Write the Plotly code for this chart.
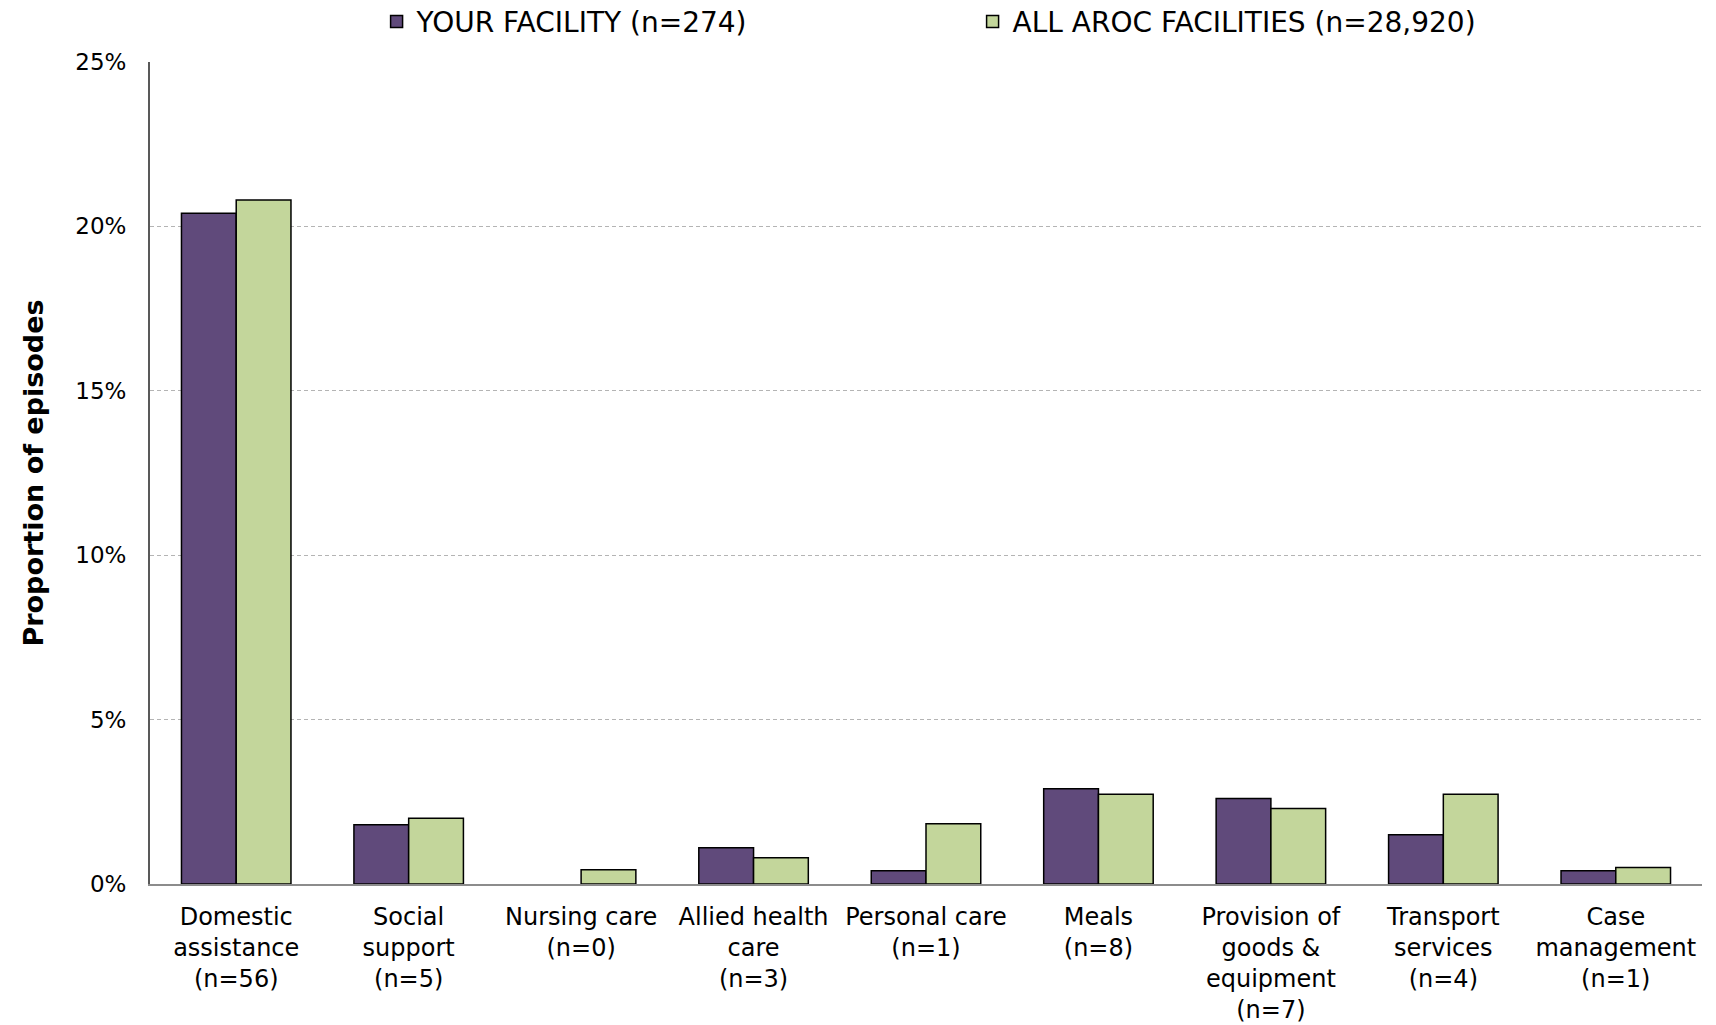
import plotly.graph_objects as go

# Service categories (x-axis labels include episode counts)
categories = [
    "Domestic<br>assistance<br>(n=56)",
    "Social<br>support<br>(n=5)",
    "Nursing care<br>(n=0)",
    "Allied health<br>care<br>(n=3)",
    "Personal care<br>(n=1)",
    "Meals<br>(n=8)",
    "Provision of<br>goods &amp;<br>equipment<br>(n=7)",
    "Transport<br>services<br>(n=4)",
    "Case<br>management<br>(n=1)",
]

# Proportion of episodes (%)
your_facility = [20.4, 1.8, 0.0, 1.1, 0.4, 2.9, 2.6, 1.5, 0.4]
all_aroc = [20.8, 2.0, 0.43, 0.8, 1.83, 2.73, 2.3, 2.73, 0.5]

series_names = ["YOUR FACILITY (n=274)", "ALL AROC FACILITIES (n=28,920)"]

PURPLE = "#604A7B"
GREEN = "#C3D69B"
FONT = "DejaVu Sans"


def outline_widths(values, w=1.5):
    # no outline on empty bars so a zero value draws nothing
    return [w if v > 0 else 0 for v in values]


fig = go.Figure()
fig.add_trace(go.Bar(
    x=categories, y=your_facility, name=series_names[0],
    marker=dict(color=PURPLE,
                line=dict(color="black", width=outline_widths(your_facility))),
))
fig.add_trace(go.Bar(
    x=categories, y=all_aroc, name=series_names[1],
    marker=dict(color=GREEN,
                line=dict(color="black", width=outline_widths(all_aroc))),
))

fig.update_layout(
    width=1716, height=1025,
    margin=dict(l=150, r=14, t=62, b=141, autoexpand=False),
    paper_bgcolor="white", plot_bgcolor="white",
    barmode="group", bargap=0.365, bargroupgap=0,
    font=dict(family=FONT, size=22, color="black"),
    showlegend=True,
    legend=dict(
        orientation="h", x=0.146, xanchor="left", y=1.049, yanchor="middle",
        font=dict(family=FONT, size=28, color="black"),
        itemwidth=30, entrywidth=551, entrywidthmode="pixels",
        bgcolor="rgba(0,0,0,0)",
    ),
)

fig.update_xaxes(
    showline=True, linecolor="#8c8c8c", linewidth=2,
    showgrid=False, ticks="", ticklabelstandoff=10,
    tickfont=dict(family=FONT, size=24, color="black"),
    tickangle=0,
)
fig.update_yaxes(
    range=[0, 25], dtick=5, ticksuffix="%",
    showline=True, linecolor="#595959", linewidth=2,
    showgrid=True, gridcolor="#b4b4b4", gridwidth=1, griddash="4px,3px",
    zeroline=False, ticks="", ticklabelstandoff=17,
    tickfont=dict(family=FONT, size=23, color="black"),
    title=dict(text="<b>Proportion of episodes</b>",
               font=dict(family=FONT, size=27, color="black"), standoff=24),
)

fig.write_html("out.html")
